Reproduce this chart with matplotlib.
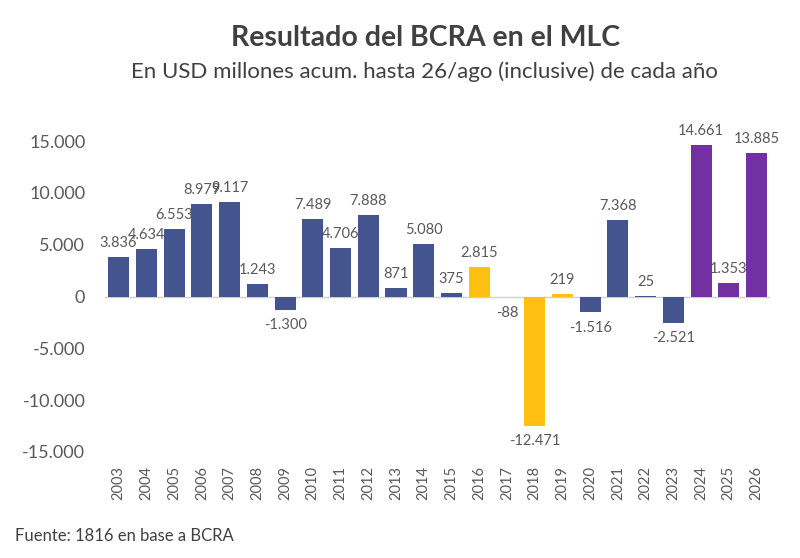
import matplotlib.pyplot as plt
import numpy as np

plt.rcParams['font.family'] = ['Lato', 'DejaVu Sans']

years = [str(y) for y in range(2003, 2027)]
values = [3836, 4634, 6553, 8979, 9117, 1243, -1300, 7489, 4706, 7888, 871, 5080,
          375, 2815, -88, -12471, 219, -1516, 7368, 25, -2521, 14661, 1353, 13885]
# which colour group each year belongs to
groups = ['b'] * 13 + ['y'] * 4 + ['b'] * 4 + ['p'] * 3

colors = {'b': '#44548F', 'y': '#FFC012', 'p': '#7330A2'}
txt = '#595959'

fig = plt.figure(figsize=(8, 5.58), dpi=100)
ax = fig.add_axes([0.131, 0.19, 0.832, 0.557])

x = np.arange(len(years))
bar_colors = [colors[g] for g in groups]
ax.bar(x, values, width=0.76, color=bar_colors, zorder=2)
ax.axhline(0, color='#D0D0D0', lw=1, zorder=1)

for xi, v in zip(x, values):
    lbl = f"{v:,}".replace(',', '.')
    if v >= 0:
        ax.annotate(lbl, (xi, v), xytext=(0, 5), textcoords='offset points',
                    ha='center', va='bottom', fontsize=10.5, color=txt)
    else:
        ax.annotate(lbl, (xi, v), xytext=(0, -6), textcoords='offset points',
                    ha='center', va='top', fontsize=10.5, color=txt)

ax.set_xlim(-0.5, len(years) - 0.5)
ax.set_ylim(-15000, 15000)
yt = [-15000, -10000, -5000, 0, 5000, 10000, 15000]
ax.set_yticks(yt)
ax.set_yticklabels([f"{t:,}".replace(',', '.') for t in yt], fontsize=13, color=txt)
ax.set_xticks(x)
ax.set_xticklabels(years, rotation=90, fontsize=10.5, color=txt)
ax.tick_params(length=0)
ax.tick_params(axis='y', pad=14)
ax.tick_params(axis='x', pad=10)
for s in ax.spines.values():
    s.set_visible(False)

fig.text(0.532, 0.932, 'Resultado del BCRA en el MLC', ha='center', va='center',
         fontsize=20.5, fontweight='bold', color='#404040')
fig.text(0.53, 0.871, 'En USD millones acum. hasta 26/ago (inclusive) de cada año',
         ha='center', va='center', fontsize=16, color='#404040')
fig.text(0.019, 0.04, 'Fuente: 1816 en base a BCRA', ha='left', va='center',
         fontsize=12, color='#404040')

fig.savefig('out.png', dpi=100)
